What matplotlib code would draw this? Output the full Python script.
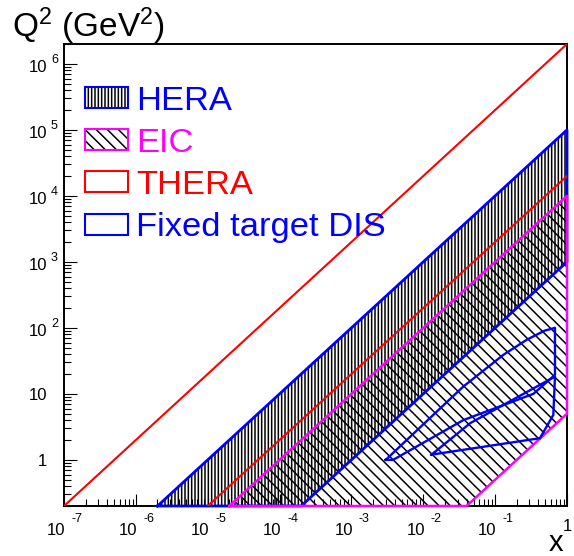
import matplotlib
matplotlib.use("Agg")
import matplotlib.pyplot as plt
from matplotlib.patches import Rectangle
from matplotlib.ticker import LogLocator, NullFormatter
from matplotlib.transforms import offset_copy, blended_transform_factory

plt.rcParams["font.family"] = ["Liberation Sans", "DejaVu Sans"]
plt.rcParams["mathtext.fontset"] = "custom"
plt.rcParams["mathtext.rm"] = "Liberation Sans"
plt.rcParams["mathtext.default"] = "regular"
plt.rcParams["hatch.linewidth"] = 1.1

C_HERA = "#0000FF"
C_EIC = "#FF00FF"
C_THERA = "#FF0000"
C_FT = "#0000FF"

# axis range
X_MIN, X_MAX = 1e-7, 1.0
Q2_MIN, Q2_MAX = 0.2, 2e6

# kinematic limits Q2 = slope * x  (upper: y = 1, lower: y_min)
HERA_SLOPES = [1e5, 1e3]
EIC_SLOPES = [1e4, 5.0]
THERA_SLOPES = [2e6, 2e4]

# fixed target DIS coverage (two outlines)
FT1_X = [3.0e-3, 0.036, 0.13, 0.275, 0.49, 0.68, 0.68, 0.34, 0.036, 3.8e-3, 3.0e-3]
FT1_Q2 = [1.0, 12.9, 39.0, 66.0, 91.0, 100.0, 19.4, 10.0, 4.0, 1.0, 1.0]
FT2_X = [0.013, 0.045, 0.68, 0.645, 0.42, 0.013]
FT2_Q2 = [1.2, 3.6, 18.3, 4.8, 2.13, 1.2]

X_DECADES = [-7, -6, -5, -4, -3, -2, -1]
Y_DECADES = [2, 3, 4, 5, 6]

LEGEND = [("HERA", C_HERA, "|||||"), ("EIC", C_EIC, "\\\\\\"),
          ("THERA", C_THERA, None), ("Fixed target DIS", C_FT, None)]

W, H = 574, 556


def band(slopes):
    hi, lo = slopes
    xs = [Q2_MIN / hi, X_MAX, X_MAX, Q2_MIN / lo, Q2_MIN / hi]
    qs = [Q2_MIN, hi * X_MAX, lo * X_MAX, Q2_MIN, Q2_MIN]
    return xs, qs


def fx(px):
    return px / W


def fy(py):
    return 1 - py / H


fig = plt.figure(figsize=(W / 100, H / 100), dpi=100, facecolor="white")
ax = fig.add_axes([fx(64), fy(506), fx(567) - fx(64), fy(44) - fy(506)])
ax.set_xscale("log")
ax.set_yscale("log")
ax.set_xlim(X_MIN, X_MAX)
ax.set_ylim(Q2_MIN, Q2_MAX)

# hatched regions
hx, hq = band(HERA_SLOPES)
ax.fill(hx, hq, facecolor="none", edgecolor="black", hatch="|||||", lw=0, zorder=1)
ex, eq = band(EIC_SLOPES)
ax.fill(ex, eq, facecolor="none", edgecolor="black", hatch="\\\\\\", lw=0, zorder=1)

# outlines
ax.plot(hx, hq, color=C_HERA, lw=2.0, clip_on=False, zorder=3)
for s in THERA_SLOPES:
    x0 = max(X_MIN, Q2_MIN / s)
    ax.plot([x0, X_MAX], [s * x0, s * X_MAX], color=C_THERA, lw=1.5, zorder=3)
ax.plot(ex, eq, color=C_EIC, lw=1.8, clip_on=False, zorder=3)
ax.plot(FT1_X, FT1_Q2, color=C_FT, lw=1.7, zorder=4)
ax.plot(FT2_X, FT2_Q2, color=C_FT, lw=1.7, zorder=4)

# ROOT-like axes
for sp in ax.spines.values():
    sp.set_linewidth(1.4)
ax.xaxis.set_major_locator(LogLocator(base=10, numticks=20))
ax.yaxis.set_major_locator(LogLocator(base=10, numticks=20))
ax.xaxis.set_minor_locator(LogLocator(base=10, subs=range(2, 10), numticks=20))
ax.yaxis.set_minor_locator(LogLocator(base=10, subs=range(2, 10), numticks=20))
ax.xaxis.set_major_formatter(NullFormatter())
ax.yaxis.set_major_formatter(NullFormatter())
ax.xaxis.set_minor_formatter(NullFormatter())
ax.yaxis.set_minor_formatter(NullFormatter())
ax.tick_params(which="major", direction="in", length=9, width=0.8, top=False, right=False)
ax.tick_params(which="minor", direction="in", length=4.7, width=0.8, top=False, right=False)

# tick labels, "10" with raised exponent
tx = blended_transform_factory(ax.transData, ax.transAxes)
ty = blended_transform_factory(ax.transAxes, ax.transData)
for e in X_DECADES:
    ax.text(10.0 ** e, 0, "10", fontsize=12, ha="right", va="baseline",
            transform=offset_copy(tx, fig=fig, x=1.5, y=-29, units="dots"))
    ax.text(10.0 ** e, 0, str(e), fontsize=9, ha="left", va="baseline",
            transform=offset_copy(tx, fig=fig, x=7.5, y=-16.5, units="dots"))
ax.text(1.0, 0, "1", fontsize=12, ha="center", va="baseline",
        transform=offset_copy(tx, fig=fig, x=0, y=-25, units="dots"))
for e in Y_DECADES:
    ax.text(0, 10.0 ** e, "10", fontsize=12, ha="right", va="baseline",
            transform=offset_copy(ty, fig=fig, x=-17, y=-8, units="dots"))
    ax.text(0, 10.0 ** e, str(e), fontsize=9, ha="left", va="baseline",
            transform=offset_copy(ty, fig=fig, x=-13, y=1, units="dots"))
for v, s in [(10.0, "10"), (1.0, "1")]:
    ax.text(0, v, s, fontsize=12, ha="right", va="baseline",
            transform=offset_copy(ty, fig=fig, x=-17, y=-6.5, units="dots"))

# axis titles
fig.text(fx(12), fy(37), r"Q$^{2}$ (GeV$^{2}$)", fontsize=24, ha="left", va="baseline")
fig.text(fx(556), fy(551), "x", fontsize=21, ha="center", va="baseline")

# legend
for i, (name, col, hatch) in enumerate(LEGEND):
    top = 87 + i * 42.2
    fig.add_artist(Rectangle((fx(85), fy(top + 21)), fx(128) - fx(85), fy(top) - fy(top + 21),
                             transform=fig.transFigure, facecolor="none",
                             edgecolor="black" if hatch else col, hatch=hatch, lw=0))
    fig.add_artist(Rectangle((fx(85), fy(top + 21)), fx(128) - fx(85), fy(top) - fy(top + 21),
                             transform=fig.transFigure, facecolor="none",
                             edgecolor=col, lw=1.5))
    fig.text(fx(136), fy(top + 22.5), name, color=col, fontsize=24.8, ha="left", va="baseline")

fig.savefig("out.png", dpi=100, facecolor="white")
